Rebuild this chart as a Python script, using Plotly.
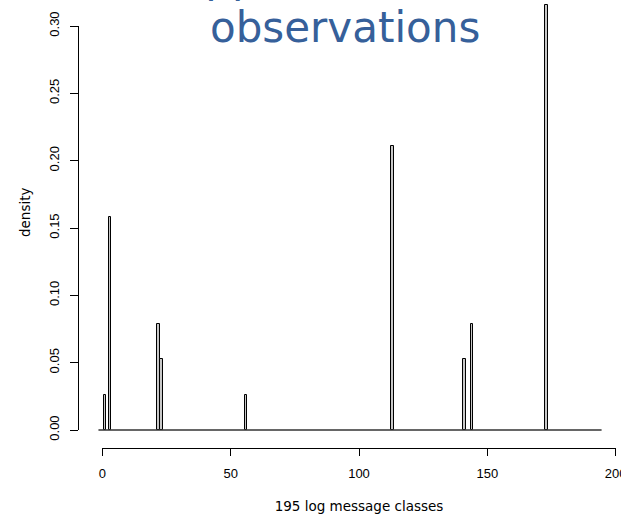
import plotly.graph_objects as go

# ---------------- data ----------------
n_obs = 38
classes = [1, 3, 22, 23, 56, 113, 141, 144, 173]
counts = [1, 6, 3, 2, 1, 8, 2, 3, 12]
density = [c / n_obs for c in counts]
bin_lo, bin_hi = -1.5, 194.5          # histogram break range (zero-height bins form the baseline)
x_ticks = [0, 50, 100, 150, 200]
y_ticks = [0.00, 0.05, 0.10, 0.15, 0.20, 0.25, 0.30]
x_title = "195 log message classes"
y_title = "density"
title_line1 = "Support"
title_line2 = "observations"

# ---------------- layout geometry (pixels) ----------------
W, H = 621, 514
X0, X200 = 102.3, 615.7               # pixel of x=0 and x=200
Y0, Y30 = 430.0, 26.0                 # pixel of y=0 and y=0.30
pxu = (X200 - X0) / 200.0
pyu = (Y0 - Y30) / 0.30
xr = [-X0 / pxu, (W - X0) / pxu]
yr = [(Y0 - H) / pyu, Y0 / pyu]

fig = go.Figure()

fig.add_trace(go.Scatter(
    x=[bin_lo, bin_hi], y=[0, 0], mode="lines",
    line=dict(color="#333333", width=1.3),
    showlegend=False, hoverinfo="skip", xaxis="x", yaxis="y"))

fig.add_trace(go.Bar(
    x=classes, y=density, width=1,
    marker=dict(color="#c8c8c8", line=dict(color="black", width=1)),
    showlegend=False, xaxis="x", yaxis="y"))

# dummy trace to create the axis-only subplot
fig.add_trace(go.Scatter(
    x=[0], y=[0], mode="markers", marker=dict(opacity=0),
    showlegend=False, hoverinfo="skip", xaxis="x2", yaxis="y2"))

tick_font = dict(family="Liberation Sans, Arial, sans-serif", size=13, color="black")
title_font = dict(family="DejaVu Sans, Verdana, sans-serif", size=13.5, color="black")

fig.update_layout(
    width=W, height=H,
    margin=dict(l=0, r=0, t=0, b=0, autoexpand=False),
    paper_bgcolor="white", plot_bgcolor="rgba(0,0,0,0)",
    bargap=0,
    xaxis=dict(domain=[0, 1], range=xr, visible=False, fixedrange=True, automargin=False),
    yaxis=dict(domain=[0, 1], range=yr, visible=False, fixedrange=True, automargin=False),
    xaxis2=dict(
        domain=[X0 / W, X200 / W], range=[0, 200], anchor="free",
        position=1 - 448.3 / H, automargin=False,
        showline=True, linecolor="black", linewidth=1,
        ticks="outside", ticklen=7, tickcolor="black", tickwidth=1,
        tickvals=x_ticks, ticktext=[str(v) for v in x_ticks],
        ticklabeloverflow="allow",
        showgrid=False, zeroline=False, tickfont=tick_font,
        ticklabelstandoff=6,
        title=dict(text=x_title, font=title_font, standoff=22),
    ),
    yaxis2=dict(
        domain=[1 - Y0 / H, 1 - Y30 / H], range=[0, 0.30], anchor="free",
        position=78 / W, automargin=False,
        showline=True, linecolor="black", linewidth=1,
        ticks="outside", ticklen=8, tickcolor="black", tickwidth=1,
        tickvals=y_ticks, ticktext=[f"{v:.2f}" for v in y_ticks],
        tickangle=-90, ticklabeloverflow="allow",
        showgrid=False, zeroline=False, tickfont=tick_font,
        ticklabelstandoff=6,
    ),
    annotations=[
        dict(text=y_title, xref="paper", yref="paper",
             x=25 / W, y=1 - 212 / H, xanchor="center", yanchor="middle",
             textangle=-90, showarrow=False, font=title_font),
        dict(text=title_line2, xref="paper", yref="paper",
             x=345 / W, y=1 - 27 / H, xanchor="center", yanchor="middle",
             showarrow=False,
             font=dict(family="DejaVu Sans, Verdana, sans-serif", size=42, color="#36609A")),
        dict(text=title_line1, xref="paper", yref="paper",
             x=150 / W, y=1 + 22 / H, xanchor="left", yanchor="middle",
             showarrow=False,
             font=dict(family="DejaVu Sans, Verdana, sans-serif", size=42, color="#36609A")),
    ],
)

fig.write_html("out.html")
